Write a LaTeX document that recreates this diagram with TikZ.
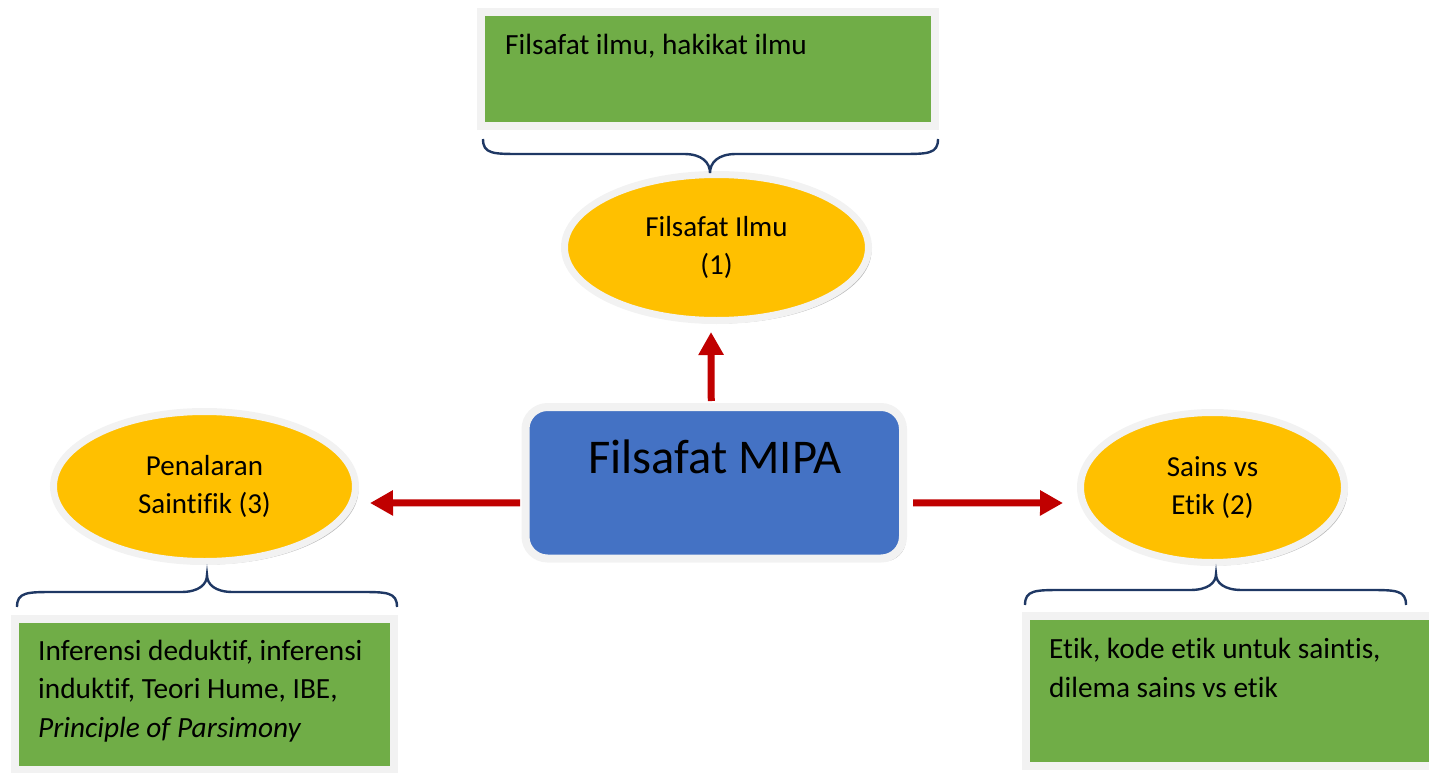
\documentclass[tikz,border=0pt]{standalone}
\usepackage{fontspec}
\setmainfont[Ligatures=NoCommon]{Carlito}
\usetikzlibrary{shapes.geometric,arrows.meta,shadows}

\definecolor{leafgreen}{HTML}{70AD47}
\definecolor{sunyellow}{HTML}{FFC000}
\definecolor{mainblue}{HTML}{4472C4}
\definecolor{arrowred}{HTML}{C00000}
\definecolor{framegray}{HTML}{F2F2F2}
\definecolor{bracenavy}{HTML}{1F3864}

\tikzset{
  softshadow/.style={drop shadow={shadow xshift=3pt,shadow yshift=-3pt,fill=black,opacity=0.28}},
  topicbox/.style={draw=framegray,fill=leafgreen,line width=8pt,inner sep=0pt,softshadow},
  topicoval/.style={ellipse,draw=framegray,fill=sunyellow,line width=7pt,inner sep=0pt,
    align=center,font=\fontsize{29}{38}\selectfont,softshadow},
  corebox/.style={rectangle,rounded corners=22pt,draw=framegray,fill=mainblue,line width=8pt,
    inner sep=0pt,softshadow},
  boxtext/.style={anchor=base west,align=left,inner sep=0pt,font=\fontsize{29.3}{38.5}\selectfont},
  redarrow/.style={draw=arrowred,line width=7pt,-{Triangle[width=24pt,length=23pt]}},
  bracestroke/.style={draw=bracenavy,line width=2.4pt},
}

% curly brace: ends x0,x1 at height ye, straight run at ym, cusp at (xt,yt)
\newcommand\curlybrace[6]{%
  \draw[bracestroke] (#1,#3) .. controls (#1,#4) and ({#1+10},#4) .. ({#1+38},#4)
    -- ({#5-26},#4) .. controls ({#5-8},#4) and (#5,{#4+0.45*(#6-#4)}) .. (#5,#6)
    .. controls (#5,{#4+0.45*(#6-#4)}) and ({#5+8},#4) .. ({#5+26},#4)
    -- ({#2-38},#4) .. controls ({#2-10},#4) and (#2,#4) .. (#2,#3);%
}

\begin{document}
\begin{tikzpicture}[x=1pt,y=-1pt]
\useasboundingbox (0,0) rectangle (1429,773);

% central topic
\node[corebox,minimum width=377.5pt,minimum height=151.5pt] (core) at (714.25,482.75) {};
\node[anchor=base,inner sep=0pt,font=\fontsize{48.5}{58}\selectfont] (corelbl) at (715,473) {Filsafat MIPA};

% three sub-topics
\node[topicoval,minimum width=304pt,minimum height=146pt] (ilmu) at (716.5,247.5) {Filsafat Ilmu\\(1)};
\node[topicoval,minimum width=302pt,minimum height=150pt] (nalar) at (204.5,486.5) {Penalaran\\Saintifik (3)};
\node[topicoval,minimum width=264pt,minimum height=150pt] (etik) at (1212.5,487.5) {Sains vs\\Etik (2)};

% arrows from the centre
\draw[redarrow] ([xshift=-3pt,yshift=2pt]core.north) -- ([xshift=-5.5pt,yshift=-8pt]ilmu.south);
\draw[redarrow] ([xshift=-1.5pt,yshift=-20pt]core.west) -- ([xshift=11pt,yshift=-16.5pt]nalar.east);
\draw[redarrow] ([xshift=6pt,yshift=-20pt]core.east) -- ([xshift=-14pt,yshift=-15.5pt]etik.west);

% detail boxes (multi-line text is placed by its last baseline)
\node[topicbox,minimum width=453.5pt,minimum height=114pt] (ilmubox) at (707.75,69) {};
\node[boxtext] (ilmutext) at (505,55) {Filsafat ilmu, hakikat ilmu};

\node[topicbox,minimum width=379pt,minimum height=151.5pt] (nalarbox) at (204,694.25) {};
\node[boxtext] (nalartext) at (38,737) {Inferensi deduktif, inferensi\\induktif, Teori Hume, IBE,\\\textit{Principle of Parsimony}};

\node[topicbox,minimum width=419.5pt,minimum height=149.5pt] (etikbox) at (1235.25,690.75) {};
\node[boxtext] (etiktext) at (1049,697) {Etik, kode etik untuk saintis,\\dilema sains vs etik};

% braces joining boxes and topics
\curlybrace{483}{938}{139}{154}{710}{173}
\curlybrace{17}{397}{607}{592}{207}{575}
\curlybrace{1025}{1406}{605}{590}{1216}{574}
\end{tikzpicture}
\end{document}
